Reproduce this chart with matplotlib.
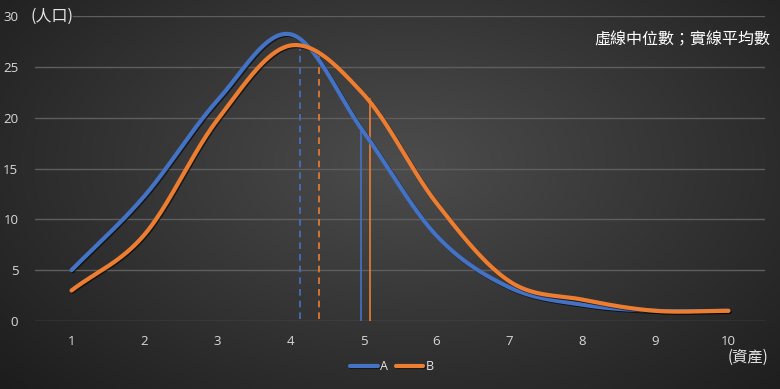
import numpy as np
import matplotlib
matplotlib.use("Agg")
import matplotlib.pyplot as plt
import matplotlib.patheffects as pe

plt.rcParams['font.family'] = ['Open Sans', 'Noto Sans CJK TC', 'DejaVu Sans']

# data
assets = [1, 2, 3, 4, 5, 6, 7, 8, 9, 10]
pop_a = [5, 12.3, 21.7, 28.2, 18.6, 8.4, 3.3, 1.6, 1.0, 1.0]
pop_b = [3, 8.5, 19.8, 27.1, 22.3, 11.6, 3.9, 2.1, 1.0, 1.0]
median_a, median_a_top = 4.13, 26.8
median_b, median_b_top = 4.39, 26.4
mean_a, mean_a_top = 4.97, 18.7
mean_b, mean_b_top = 5.09, 21.9

blue = '#4472C4'
orange = '#ED7D31'


def smooth(xs, ys, n=40):
    # catmull-rom like excel's smoothed line
    xs = np.asarray(xs, float)
    ys = np.asarray(ys, float)
    px = np.concatenate([[2 * xs[0] - xs[1]], xs, [2 * xs[-1] - xs[-2]]])
    py = np.concatenate([[2 * ys[0] - ys[1]], ys, [ys[-1]]])
    outx, outy = [], []
    for i in range(1, len(px) - 2):
        t = np.linspace(0, 1, n, endpoint=False)
        for p, out in ((px, outx), (py, outy)):
            p0, p1, p2, p3 = p[i - 1], p[i], p[i + 1], p[i + 2]
            c1 = p1 + (p2 - p0) / 6
            c2 = p2 - (p3 - p1) / 6
            out.extend((1 - t) ** 3 * p1 + 3 * (1 - t) ** 2 * t * c1
                       + 3 * (1 - t) * t ** 2 * c2 + t ** 3 * p2)
    outx.append(xs[-1])
    outy.append(ys[-1])
    return np.array(outx), np.array(outy)


fig = plt.figure(figsize=(7.8, 3.89), dpi=100)

# radial gradient background
bg = fig.add_axes([0, 0, 1, 1])
gx, gy = np.meshgrid(np.linspace(0, 1, 390), np.linspace(0, 1, 200))
d = np.sqrt(((gx - 0.52) / 0.75) ** 2 + ((gy - 0.42) / 0.9) ** 2)
shade = np.clip(0.30 - 0.20 * d, 0.10, 0.30)
bg.imshow(np.dstack([shade, shade, shade]), aspect='auto', extent=[0, 1, 0, 1])
bg.axis('off')

ax = fig.add_axes([35 / 780, 1 - 321 / 389, 730 / 780, 305 / 389])
ax.patch.set_alpha(0)
ax.set_xlim(0.5, 10.5)
ax.set_ylim(0, 30)

for v in range(0, 26, 5):
    ax.axhline(v, color='#5e5e5e', lw=1, zorder=1)
ax.axhline(30, xmin=38 / 730, color='#5e5e5e', lw=1, zorder=1)

shadow = [pe.SimpleLineShadow(offset=(0.8, -0.8), shadow_color='black', alpha=0.6), pe.Normal()]
sx, sy = smooth(assets, pop_a)
ax.plot(sx, sy, color=blue, lw=3, solid_capstyle='round', label='A', path_effects=shadow, zorder=4)
sx, sy = smooth(assets, pop_b)
ax.plot(sx, sy, color=orange, lw=3, solid_capstyle='round', label='B', path_effects=shadow, zorder=4)

ax.vlines(median_a, 0.2, median_a_top, colors=blue, linestyles=(0, (4, 3)), lw=1.2, zorder=3)
ax.vlines(median_b, 0.2, median_b_top, colors=orange, linestyles=(0, (4, 3)), lw=1.2, zorder=3)
ax.vlines(mean_a, 0, mean_a_top, colors=blue, lw=1.2, zorder=3)
ax.vlines(mean_b, 0, mean_b_top, colors=orange, lw=1.2, zorder=3)

ax.set_xticks(assets)
ax.set_yticks([0, 5, 10, 15, 20, 25, 30])
ax.tick_params(length=0, colors='#d9d9d9', labelsize=9.5)
ax.tick_params(axis='x', pad=10)
ax.tick_params(axis='y', pad=12)
for s in ax.spines.values():
    s.set_visible(False)

fig.text(31 / 780, 1 - 16 / 389, '(人口)', color='#e6e6e6', fontsize=11.5,
         family=['Noto Sans CJK TC', 'DejaVu Sans'], va='center', ha='left')
fig.text(748 / 780, 1 - 357 / 389, '(資產)', color='#e6e6e6', fontsize=11,
         family=['Noto Sans CJK TC', 'DejaVu Sans'], va='center', ha='center')
fig.text(770 / 780, 1 - 40 / 389, '虛線中位數；實線平均數', color='white', fontsize=11.5,
         family=['Noto Sans CJK TC', 'DejaVu Sans'], va='center', ha='right')

leg = fig.legend(loc='center', bbox_to_anchor=(392 / 780, 1 - 367 / 389), ncol=2, frameon=False,
                 fontsize=9, handlelength=2.2, handletextpad=0.2, columnspacing=0.6)
for t in leg.get_texts():
    t.set_color('#e6e6e6')

fig.savefig('out.png', dpi=100)
